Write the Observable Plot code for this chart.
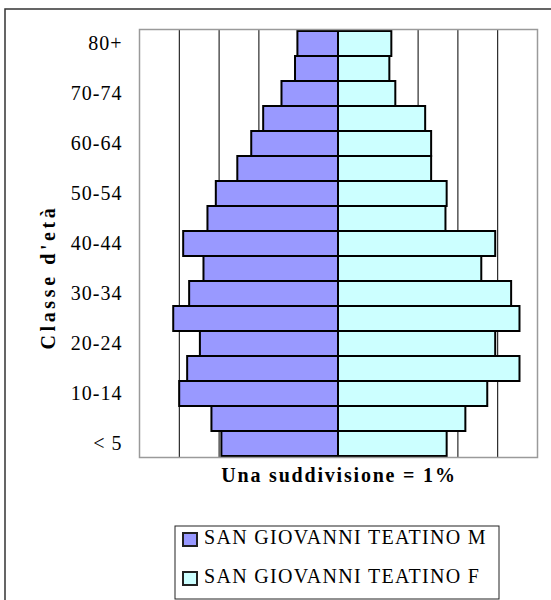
<!DOCTYPE html>
<html>
<head>
<meta charset="utf-8">
<script src="https://cdn.jsdelivr.net/npm/d3@7"></script>
<script src="https://cdn.jsdelivr.net/npm/@observablehq/plot@0.6"></script>
<style>
  html, body { margin: 0; padding: 0; background: #fff; }
</style>
</head>
<body>
<div id="chart"></div>
<script>
// Age classes, bottom to top
const ages = ["< 5","5-9","10-14","15-19","20-24","25-29","30-34","35-39","40-44","45-49","50-54","55-59","60-64","65-69","70-74","75-79","80+"];
// Percent of population per class
const male   = [2.93, 3.18, 3.99, 3.79, 3.47, 4.14, 3.74, 3.38, 3.89, 3.28, 3.07, 2.53, 2.18, 1.88, 1.42, 1.08, 1.02];
const female = [2.73, 3.20, 3.75, 4.56, 3.95, 4.56, 4.35, 3.60, 3.95, 2.70, 2.73, 2.34, 2.34, 2.19, 1.44, 1.29, 1.34];
const seriesNames = ["SAN GIOVANNI TEATINO M", "SAN GIOVANNI TEATINO F"];
const seriesColors = ["#9999FF", "#CCFFFF"];
const gridTicks = [-4, -3, -2, -1, 1, 2, 3, 4];
const labeledAges = ages.filter((d, i) => i % 2 === 0);
const yTitle = "Classe d'età";
const xTitle = "Una suddivisione = 1%";

const rows = ages.flatMap((age, i) => [
  {age, sex: "M", x1: 0, x2: -male[i]},
  {age, sex: "F", x1: 0, x2: female[i]}
]);

const W = 551, H = 600;
const FONT = "'Liberation Serif', 'Times New Roman', serif";
const chart = Plot.plot({
  width: W,
  height: H,
  marginLeft: 139,
  marginRight: 14,
  marginTop: 29,
  marginBottom: 143,
  style: {fontFamily: FONT, fontSize: "20px", color: "black", background: "white"},
  x: {domain: [-5, 5], axis: null},
  y: {type: "band", domain: ages.slice().reverse(), padding: 0, axis: null},
  marks: [
    Plot.ruleX(gridTicks, {stroke: "black", strokeWidth: 1}),
    Plot.barX(rows, {
      y: "age", x1: "x1", x2: "x2",
      fill: d => d.sex === "M" ? seriesColors[0] : seriesColors[1],
      stroke: "black", strokeWidth: 2, insetTop: 0, insetBottom: 0
    }),
    Plot.frame({stroke: "#9a9a9a", strokeWidth: 1.5}),
    Plot.axisY({ticks: labeledAges, tickSize: 0, tickPadding: 17, fontSize: 20, label: null})
  ]
});

const svg = d3.select(chart);
svg.selectAll("g[aria-label='y-axis tick label'] text").style("letter-spacing", "1px");

// outer chart border
svg.append("rect").attr("x", 5).attr("y", 9).attr("width", 600).attr("height", 650)
  .attr("fill", "none").attr("stroke", "#333").attr("stroke-width", 1.5);

// y title
svg.append("text")
  .attr("transform", "translate(55,277) rotate(-90)")
  .attr("text-anchor", "middle")
  .attr("font-family", FONT)
  .attr("font-weight", "bold").attr("font-size", 20)
  .style("letter-spacing", "3.6px")
  .text(yTitle);

// x title
svg.append("text")
  .attr("x", 339).attr("y", 482)
  .attr("text-anchor", "middle")
  .attr("font-family", FONT)
  .attr("font-weight", "bold").attr("font-size", 20)
  .style("letter-spacing", "1.8px")
  .text(xTitle);

// legend
const lg = svg.append("g");
lg.append("rect").attr("x", 175).attr("y", 526).attr("width", 324).attr("height", 73)
  .attr("fill", "white").attr("stroke", "#222").attr("stroke-width", 1);
seriesNames.forEach((name, i) => {
  const baseY = 544 + i * 39;
  lg.append("rect").attr("x", 183).attr("y", baseY - 11).attr("width", 14).attr("height", 13)
    .attr("fill", seriesColors[i]).attr("stroke", "#222").attr("stroke-width", 2);
  lg.append("text").attr("x", 204).attr("y", baseY)
    .attr("text-anchor", "start")
    .attr("font-family", FONT)
    .attr("font-size", 20).style("letter-spacing", "1.3px")
    .text(name);
});

document.getElementById("chart").appendChild(chart);
</script>
</body>
</html>
